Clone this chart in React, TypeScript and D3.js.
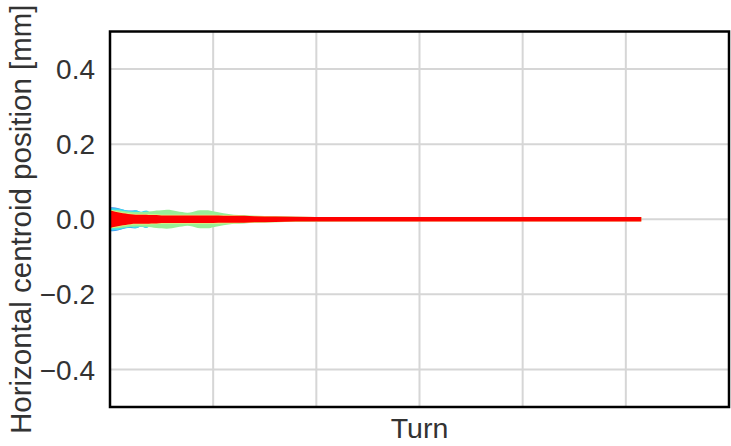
import React from 'react'
import * as d3 from 'd3'

// turn axis (thousands of turns, no tick labels shown)
const turns = [0, 0.05, 0.1, 0.15, 0.2, 0.25, 0.3, 0.35, 0.4, 0.45, 0.5, 0.55, 0.6, 0.65, 0.7, 0.75, 0.8, 0.85, 0.9, 0.95, 1.0, 1.1, 1.2, 1.3, 1.4, 1.6, 2.0, 3.0, 4.0, 5.0, 5.15]

// half-widths of the centroid envelopes [mm]
const blueHalf = [0.032, 0.031, 0.028, 0.024, 0.023, 0.024, 0.019, 0.022, 0.016, 0.013, 0.01, 0.008, 0, 0, 0, 0, 0, 0, 0, 0, 0, 0, 0, 0, 0, 0, 0, 0, 0, 0, 0]
const cyanHalf = [0.03, 0.029, 0.027, 0.024, 0.022, 0.024, 0.02, 0.023, 0.017, 0.014, 0.011, 0.009, 0, 0, 0, 0, 0, 0, 0, 0, 0, 0, 0, 0, 0, 0, 0, 0, 0, 0, 0]
const greenHalf = [0.024, 0.024, 0.023, 0.021, 0.02, 0.019, 0.019, 0.02, 0.021, 0.023, 0.024, 0.025, 0.024, 0.021, 0.019, 0.017, 0.019, 0.023, 0.024, 0.024, 0.021, 0.016, 0.012, 0.011, 0.009, 0.008, 0.006, 0.004, 0.004, 0.004, 0.004]
const yellowHalf = [0.025, 0.022, 0.019, 0.017, 0.015, 0.014, 0.014, 0.014, 0.013, 0.013, 0.012, 0.012, 0.012, 0.012, 0.012, 0.012, 0.012, 0.012, 0.012, 0.012, 0.012, 0.011, 0.011, 0.01, 0.009, 0.008, 0.006, 0.006, 0.006, 0.006, 0.006]
const redHalf = [0.023, 0.02, 0.017, 0.015, 0.013, 0.012, 0.012, 0.012, 0.011, 0.011, 0.01, 0.01, 0.01, 0.01, 0.01, 0.01, 0.01, 0.01, 0.01, 0.01, 0.01, 0.0095, 0.0093, 0.009, 0.008, 0.007, 0.006, 0.006, 0.006, 0.006, 0.006]

const yTicks = [-0.4, -0.2, 0.0, 0.2, 0.4]
const xGrid = [1, 2, 3, 4, 5]

const width = 731
const height = 446
const margin = { left: 110, top: 31.5, right: 2, bottom: 39 }
const innerWidth = width - margin.left - margin.right
const innerHeight = height - margin.top - margin.bottom

const xScale = d3.scaleLinear().domain([0, 6]).range([0, innerWidth])
const yScale = d3.scaleLinear().domain([-0.5, 0.5]).range([innerHeight, 0])

const bands = [
  { half: blueHalf, color: '#3f8cf5' },
  { half: cyanHalf, color: '#3fdcec' },
  { half: greenHalf, color: '#98ee98' },
  { half: yellowHalf, color: '#e4f27c' },
  { half: redHalf, color: '#ff0000' },
]

const font = '"Liberation Sans", Arial, sans-serif'
const textColor = '#333333'

function bandPath(half: number[]) {
  const area = d3
    .area<number>()
    .x((_, i) => xScale(turns[i]))
    .y0((_, i) => yScale(-half[i]))
    .y1((_, i) => yScale(half[i]))
    .curve(d3.curveMonotoneX)
  return area(half) || ''
}

export default function App() {
  const fmt = d3.format('.1f')
  return (
    <svg
      width={width}
      height={height}
      style={{ position: 'absolute', left: 0, top: 0, background: '#fff' }}
    >
      <defs>
        <clipPath id="plot-clip">
          <rect x={0} y={0} width={innerWidth} height={innerHeight} />
        </clipPath>
      </defs>
      <g transform={`translate(${margin.left}, ${margin.top})`}>
        {yTicks.map(t => (
          <line key={'h' + t} x1={0} x2={innerWidth} y1={yScale(t)} y2={yScale(t)} stroke="#d6d6d6" strokeWidth={2} />
        ))}
        {xGrid.map(t => (
          <line key={'v' + t} x1={xScale(t)} x2={xScale(t)} y1={0} y2={innerHeight} stroke="#d6d6d6" strokeWidth={2} />
        ))}
        <g clipPath="url(#plot-clip)">
          {bands.map(b => (
            <path key={b.color} d={bandPath(b.half)} fill={b.color} />
          ))}
        </g>
        <rect x={0} y={0} width={innerWidth} height={innerHeight} fill="none" stroke="#000" strokeWidth={2.5} />
        {yTicks.map(t => (
          <text
            key={'l' + t}
            x={-15}
            y={yScale(t)}
            dy="0.36em"
            textAnchor="end"
            fontSize={28}
            fontFamily={font}
            fill={textColor}
          >
            {fmt(t)}
          </text>
        ))}
        <text
          x={innerWidth / 2}
          y={innerHeight + 31}
          textAnchor="middle"
          fontSize={28.5}
          fontFamily={font}
          fill={textColor}
        >
          Turn
        </text>
      </g>
      <text
        transform={`translate(31, ${margin.top + innerHeight / 2}) rotate(-90)`}
        textAnchor="middle"
        fontSize={29.5}
        fontFamily={font}
        fill={textColor}
      >
        Horizontal centroid position [mm]
      </text>
    </svg>
  )
}
